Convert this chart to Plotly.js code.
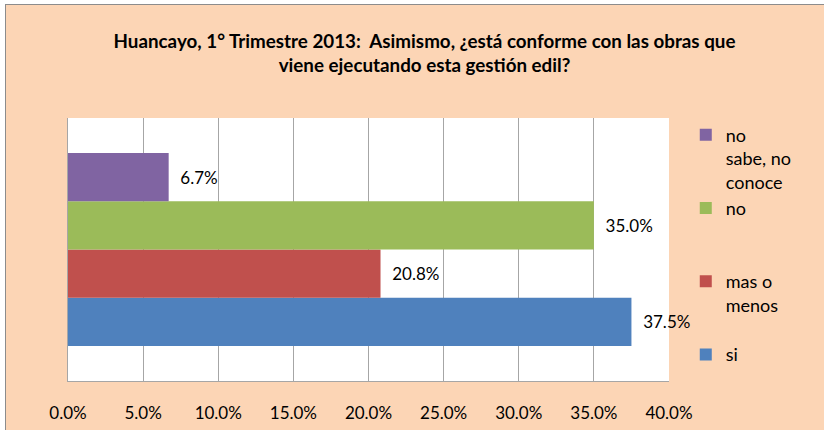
<!DOCTYPE html>
<html>
<head>
<meta charset="utf-8">
<script src="https://cdn.plot.ly/plotly-3.0.1.min.js"></script>
<style>
html,body{margin:0;padding:0;background:#ffffff;}
#wrap{position:absolute;left:5px;top:4px;width:819px;height:426px;border-left:1px solid #8c8c8c;border-top:1px solid #8c8c8c;background:#FCD5B5;}
#chart{width:819px;height:426px;}
</style>
</head>
<body>
<div id="wrap"><div id="chart"></div></div>
<script>
const seriesNames = ['si', 'mas o<br>menos<br> ', 'no<br> <br> ', 'no<br>sabe, no<br>conoce'];
const seriesValues = [0.375, 0.208, 0.35, 0.067];
const seriesColors = ['#4F81BD', '#C0504D', '#9BBB59', '#8064A2'];
const category = ['pregunta'];
const xTickVals = [0, 0.05, 0.10, 0.15, 0.20, 0.25, 0.30, 0.35, 0.40];

const FONT = 'Lato, "Open Sans", sans-serif';

const traces = seriesNames.map((n, i) => ({
  type: 'bar',
  orientation: 'h',
  name: n,
  legendgroup: 'g' + i,
  x: [seriesValues[i]],
  y: category,
  marker: {color: seriesColors[i], line: {width: 0}},
  texttemplate: '\u00A0\u00A0%{x:.1%}',
  textposition: 'outside',
  cliponaxis: false,
  textfont: {family: FONT, size: 17, color: '#000000'},
  hoverinfo: 'x+name'
}));

const layout = {
  width: 819,
  height: 426,
  paper_bgcolor: '#FCD5B5',
  plot_bgcolor: '#FFFFFF',
  margin: {l: 62, r: 156, t: 113, b: 50},
  font: {family: FONT, size: 17, color: '#000000'},
  title: {
    text: '<b>Huancayo, 1° Trimestre 2013:  Asimismo, ¿está conforme con las obras que<br>viene ejecutando esta gestión edil?</b>',
    font: {family: FONT, size: 18.8, color: '#000000'},
    xref: 'container', x: 0.511, xanchor: 'center',
    yref: 'container', y: 0.9, yanchor: 'top'
  },
  barmode: 'group',
  bargap: 0.267,
  bargroupgap: 0,
  showlegend: true,
  legend: {
    traceorder: 'reversed',
    valign: 'top',
    xref: 'container', yref: 'container',
    x: 0.83, xanchor: 'left',
    y: 0.738, yanchor: 'top',
    maxheight: 400,
    bgcolor: 'rgba(0,0,0,0)',
    tracegroupgap: 1,
    font: {family: FONT, size: 18, color: '#000000'}
  },
  xaxis: {
    range: [0, 0.4],
    tickvals: xTickVals,
    tickformat: '.1%',
    showgrid: true,
    gridcolor: '#A6A6A6',
    gridwidth: 1,
    zeroline: false,
    showline: true,
    linecolor: '#A6A6A6',
    linewidth: 1,
    ticks: '',
    ticklabelstandoff: 17,
    tickfont: {family: FONT, size: 17, color: '#000000'},
    fixedrange: true
  },
  yaxis: {
    showticklabels: false,
    showgrid: false,
    zeroline: false,
    showline: true,
    linecolor: '#A6A6A6',
    linewidth: 1,
    ticks: '',
    fixedrange: true
  }
};

Plotly.newPlot('chart', traces, layout, {displayModeBar: false, staticPlot: true});
</script>
</body>
</html>
